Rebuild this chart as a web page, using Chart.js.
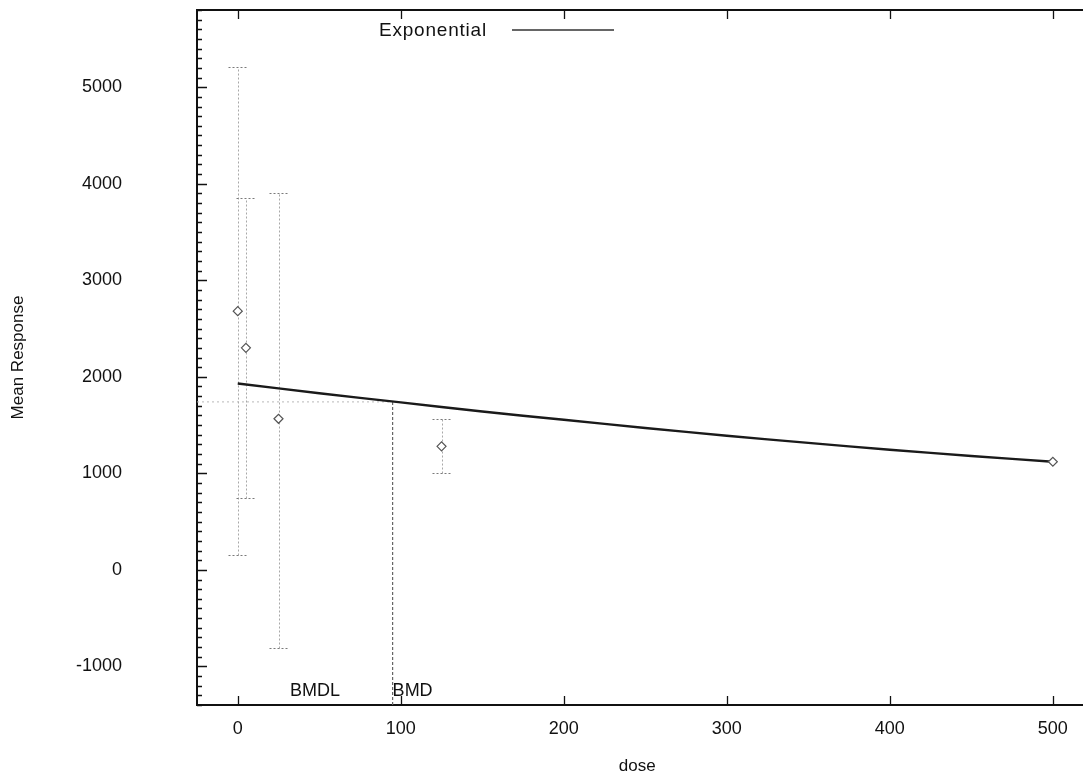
<!DOCTYPE html>
<html><head><meta charset="utf-8">
<script src="https://cdn.jsdelivr.net/npm/chart.js@4.4.1/dist/chart.umd.min.js"></script>
<style>html,body{margin:0;padding:0;background:#fff;overflow:hidden}#wrap{width:1083px;height:775px}</style>
</head><body><div id="wrap"><canvas id="c" width="1083" height="775"></canvas></div>
<script>
// ---- data ----
const doses = [0, 5, 25, 125, 500];
const means = [2680, 2300, 1565, 1280, 1120];
const lowerBounds = [150, 740, -810, 1000, 1120];
const upperBounds = [5210, 3850, 3900, 1560, 1120];
const fitDoses = [0, 50, 100, 150, 200, 250, 300, 350, 400, 450, 500];
const fitValues = [1930, 1830, 1735, 1640, 1555, 1470, 1390, 1315, 1245, 1180, 1120];
const bmdValue = 95;
const bmdlValue = 32;
const bmrResponse = 1740;
const xTickValues = [0, 100, 200, 300, 400, 500];
const yTickValues = [-1000, 0, 1000, 2000, 3000, 4000, 5000];
const legendLabel = 'Exponential';
const xMin = -25, xMax = 515, yMin = -1400, yMax = 5800, yMinorStep = 100;

const FONT = '"Liberation Sans", Arial, Helvetica, sans-serif';
const INK = '#111';

const decorations = {
  id: 'decorations',
  beforeDatasetsDraw(chart) {
    const {ctx, scales: {x, y}} = chart;
    ctx.save();
    ctx.lineWidth = 1;
    ctx.setLineDash([2, 2]);
    for (let i = 0; i < doses.length; i++) {
      if (lowerBounds[i] === upperBounds[i]) continue;
      const xp = Math.round(x.getPixelForValue(doses[i])) + 0.5;
      const y1 = Math.round(y.getPixelForValue(lowerBounds[i])) + 0.5;
      const y2 = Math.round(y.getPixelForValue(upperBounds[i])) + 0.5;
      ctx.strokeStyle = '#a8a8a8';
      ctx.beginPath();
      ctx.moveTo(xp, y1); ctx.lineTo(xp, y2);
      ctx.stroke();
      ctx.strokeStyle = '#7a7a7a';
      ctx.beginPath();
      ctx.moveTo(xp - 10, y1); ctx.lineTo(xp + 10, y1);
      ctx.moveTo(xp - 10, y2); ctx.lineTo(xp + 10, y2);
      ctx.stroke();
    }
    ctx.restore();
  },
  afterDraw(chart) {
    const {ctx, chartArea: a, scales: {x, y}} = chart;
    ctx.save();
    ctx.strokeStyle = INK;
    ctx.lineWidth = 2;
    ctx.beginPath();
    ctx.moveTo(a.left, a.top); ctx.lineTo(chart.width, a.top);
    ctx.moveTo(a.right - 1, a.bottom); ctx.lineTo(chart.width, a.bottom);
    ctx.stroke();
    ctx.lineWidth = 1.3;
    ctx.beginPath();
    xTickValues.forEach(v => {
      const p = Math.round(x.getPixelForValue(v)) + 0.5;
      ctx.moveTo(p, a.bottom); ctx.lineTo(p, a.bottom - 9);
      ctx.moveTo(p, a.top); ctx.lineTo(p, a.top + 9);
    });
    for (let v = Math.ceil(yMin / yMinorStep) * yMinorStep; v <= yMax; v += yMinorStep) {
      const p = Math.round(y.getPixelForValue(v)) + 0.5;
      const major = yTickValues.includes(v);
      ctx.moveTo(a.left, p); ctx.lineTo(a.left + (major ? 10 : 5), p);
    }
    ctx.stroke();
    ctx.fillStyle = INK;
    ctx.font = '18px ' + FONT;
    ctx.textAlign = 'left';
    ctx.textBaseline = 'alphabetic';
    ctx.fillText('BMDL', x.getPixelForValue(bmdlValue), a.bottom - 9);
    ctx.fillText('BMD', x.getPixelForValue(bmdValue), a.bottom - 9);
    ctx.font = '19px ' + FONT;
    ctx.letterSpacing = '0.8px';
    ctx.textAlign = 'right';
    ctx.textBaseline = 'middle';
    ctx.fillText(legendLabel, a.left + 290, a.top + 21);
    ctx.letterSpacing = '0px';
    ctx.strokeStyle = '#333';
    ctx.lineWidth = 1.5;
    ctx.beginPath();
    ctx.moveTo(a.left + 315, a.top + 20); ctx.lineTo(a.left + 417, a.top + 20);
    ctx.stroke();
    ctx.restore();
  }
};

new Chart(document.getElementById('c'), {
  type: 'scatter',
  data: {
    datasets: [
      {
        label: legendLabel,
        data: fitDoses.map((d, i) => ({x: d, y: fitValues[i]})),
        showLine: true, borderColor: '#1a1a1a', borderWidth: 2.4,
        pointRadius: 0, tension: 0.3, order: 1
      },
      {
        label: 'BMR',
        data: [{x: xMin, y: bmrResponse}, {x: bmdValue, y: bmrResponse}],
        showLine: true, borderColor: '#b8b8b8', borderWidth: 1, borderDash: [2, 3],
        pointRadius: 0, order: 3
      },
      {
        label: 'BMD',
        data: [{x: bmdValue, y: bmrResponse}, {x: bmdValue, y: yMin}],
        showLine: true, borderColor: '#666', borderWidth: 1.2, borderDash: [3, 2],
        pointRadius: 0, order: 3
      },
      {
        label: 'Mean',
        data: doses.map((d, i) => ({x: d, y: means[i]})),
        showLine: false, pointStyle: 'rectRot', pointRadius: 4.5,
        pointBorderColor: '#555', pointBackgroundColor: '#fff', pointBorderWidth: 1.2,
        order: 0
      }
    ]
  },
  options: {
    responsive: false, animation: false, devicePixelRatio: 1,
    layout: {padding: {top: 10, left: 0, right: 0, bottom: 0}},
    plugins: {legend: {display: false}, tooltip: {enabled: false}},
    scales: {
      x: {
        type: 'linear', position: 'bottom', min: xMin, max: xMax,
        afterBuildTicks: s => { s.ticks = xTickValues.map(v => ({value: v})); },
        afterFit: s => { s.height = 70; s.paddingLeft = 0; s.paddingRight = 0; },
        grid: {display: false, drawTicks: false},
        border: {display: true, color: INK, width: 2},
        ticks: {font: {size: 18, family: FONT}, color: INK, padding: 13, maxRotation: 0, callback: v => String(v)},
        title: {display: true, text: 'dose', color: INK, font: {size: 17, family: FONT, lineHeight: 1.0}, padding: {top: 0, bottom: 0}}
      },
      y: {
        type: 'linear', position: 'left', min: yMin, max: yMax,
        afterBuildTicks: s => { s.ticks = yTickValues.map(v => ({value: v})); },
        afterFit: s => { s.width = 197; s.paddingTop = 0; s.paddingBottom = 0; },
        grid: {display: false, drawTicks: false},
        border: {display: true, color: INK, width: 2},
        ticks: {font: {size: 18, family: FONT}, color: INK, padding: 75, callback: v => String(v)},
        title: {display: true, text: 'Mean Response', color: INK, font: {size: 17, family: FONT, lineHeight: 1.2}, padding: {top: 8, bottom: 0}}
      }
    }
  },
  plugins: [decorations]
});
</script>
</body></html>
